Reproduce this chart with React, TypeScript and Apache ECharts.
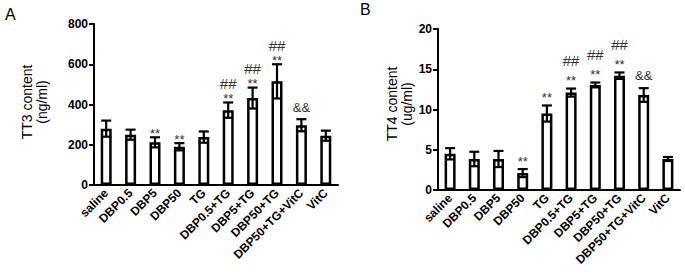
import React, { useEffect, useRef } from "react";
import * as echarts from "echarts";

const categories = [
  "saline",
  "DBP0.5",
  "DBP5",
  "DBP50",
  "TG",
  "DBP0.5+TG",
  "DBP5+TG",
  "DBP50+TG",
  "DBP50+TG+VitC",
  "VitC",
];

const tt3Mean = [280, 250, 212, 190, 238, 372, 432, 515, 297, 245];
const tt3Err = [40, 25, 25, 18, 28, 38, 52, 85, 30, 25];
const tt3Mark1 = ["", "", "**", "**", "", "**", "**", "**", "&&", ""];
const tt3Mark2 = ["", "", "", "", "", "##", "##", "##", "", ""];

const tt4Mean = [4.5, 3.85, 3.85, 2.1, 9.5, 12.1, 13.05, 14.2, 11.8, 3.85];
const tt4Err = [0.7, 0.9, 1.0, 0.5, 1.0, 0.5, 0.3, 0.4, 0.85, 0.25];
const tt4Mark1 = ["", "", "", "**", "**", "**", "**", "**", "&&", ""];
const tt4Mark2 = ["", "", "", "", "", "##", "##", "##", "", ""];

const FONT = "'Liberation Sans', Arial, sans-serif";

function makeErrorSeries(
  idx: number,
  means: number[],
  errs: number[],
  mark1: string[],
  mark2: string[],
  off: { star: number; hash: number; amp: number }
) {
  return {
    type: "custom",
    xAxisIndex: idx,
    yAxisIndex: idx,
    z: 5,
    data: means.map((m, i) => [i, m, errs[i]]),
    renderItem: (params: any, api: any) => {
      const i = params.dataIndex;
      const x = api.value(0);
      const m = api.value(1);
      const e = api.value(2);
      const top = api.coord([x, m + e]);
      const bot = api.coord([x, m - e]);
      const cx = top[0];
      const hw = 5;
      const ls = { stroke: "#000", lineWidth: 2.2 };
      const children: any[] = [
        { type: "line", shape: { x1: cx, y1: top[1], x2: cx, y2: bot[1] }, style: ls },
        { type: "line", shape: { x1: cx - hw, y1: top[1], x2: cx + hw, y2: top[1] }, style: ls },
        { type: "line", shape: { x1: cx - hw, y1: bot[1], x2: cx + hw, y2: bot[1] }, style: ls },
      ];
      const t1 = mark1[i];
      if (t1) {
        const isAmp = t1 === "&&";
        children.push({
          type: "text",
          style: {
            text: t1,
            x: cx,
            y: top[1] - (isAmp ? off.amp : off.star),
            align: "center",
            verticalAlign: "middle",
            fill: "#333",
            font: `13px ${FONT}`,
          },
        });
      }
      const t2 = mark2[i];
      if (t2) {
        children.push({
          type: "text",
          style: {
            text: t2,
            x: cx,
            y: top[1] - off.hash,
            align: "center",
            verticalAlign: "middle",
            fill: "#333",
            font: `15px ${FONT}`,
          },
        });
      }
      return { type: "group", children };
    },
  };
}

function xAxisFor(idx: number) {
  return {
    type: "category",
    gridIndex: idx,
    data: categories,
    axisLine: { lineStyle: { color: "#000", width: 2 } },
    axisTick: { alignWithLabel: true, length: 5, lineStyle: { color: "#000", width: 2 } },
    axisLabel: {
      interval: 0,
      rotate: 45,
      margin: 6,
      color: "#000",
      fontSize: 12,
      fontWeight: "bold",
      fontFamily: FONT,
    },
  };
}

function yAxisFor(idx: number, max: number, interval: number) {
  return {
    type: "value",
    gridIndex: idx,
    min: 0,
    max,
    interval,
    splitLine: { show: false },
    axisLine: { show: true, lineStyle: { color: "#000", width: 2 } },
    axisTick: { show: true, length: 5, lineStyle: { color: "#000", width: 2 } },
    axisLabel: {
      margin: 6,
      color: "#000",
      fontSize: 12,
      fontWeight: "bold",
      fontFamily: FONT,
    },
  };
}

export default function App() {
  const ref = useRef<HTMLDivElement>(null);
  useEffect(() => {
    document.body.style.margin = "0";
    const chart = echarts.init(ref.current!, null, { renderer: "svg" });
    const barStyle = { color: "#fff", borderColor: "#000", borderWidth: 2.5 };
    chart.setOption({
      animation: false,
      backgroundColor: "#fff",
      grid: [
        { left: 94, top: 24, width: 244, height: 161 },
        { left: 438, top: 29, width: 242, height: 161 },
      ],
      xAxis: [xAxisFor(0), xAxisFor(1)],
      yAxis: [yAxisFor(0, 800, 200), yAxisFor(1, 20, 5)],
      graphic: [
        {
          type: "text",
          left: 5,
          top: 6,
          style: { text: "A", font: `16px ${FONT}`, fill: "#000" },
        },
        {
          type: "text",
          left: 360,
          top: 1,
          style: { text: "B", font: `16px ${FONT}`, fill: "#000" },
        },
        {
          type: "text",
          x: 34,
          y: 102,
          rotation: Math.PI / 2,
          style: {
            text: "TT3 content\n(ng/ml)",
            align: "center",
            verticalAlign: "middle",
            lineHeight: 15,
            font: `14px ${FONT}`,
            fill: "#000",
          },
        },
        {
          type: "text",
          x: 399,
          y: 104,
          rotation: Math.PI / 2,
          style: {
            text: "TT4 content\n(ug/ml)",
            align: "center",
            verticalAlign: "middle",
            lineHeight: 15,
            font: `14px ${FONT}`,
            fill: "#000",
          },
        },
      ],
      series: [
        {
          type: "bar",
          xAxisIndex: 0,
          yAxisIndex: 0,
          barWidth: 11,
          data: tt3Mean,
          itemStyle: barStyle,
        },
        {
          type: "bar",
          xAxisIndex: 1,
          yAxisIndex: 1,
          barWidth: 11,
          data: tt4Mean,
          itemStyle: barStyle,
        },
        makeErrorSeries(0, tt3Mean, tt3Err, tt3Mark1, tt3Mark2, { star: 4, hash: 19, amp: 12 }),
        makeErrorSeries(1, tt4Mean, tt4Err, tt4Mark1, tt4Mark2, { star: 8, hash: 28, amp: 13 }),
      ],
    });
    return () => chart.dispose();
  }, []);
  return <div ref={ref} style={{ width: 685, height: 276 }} />;
}
